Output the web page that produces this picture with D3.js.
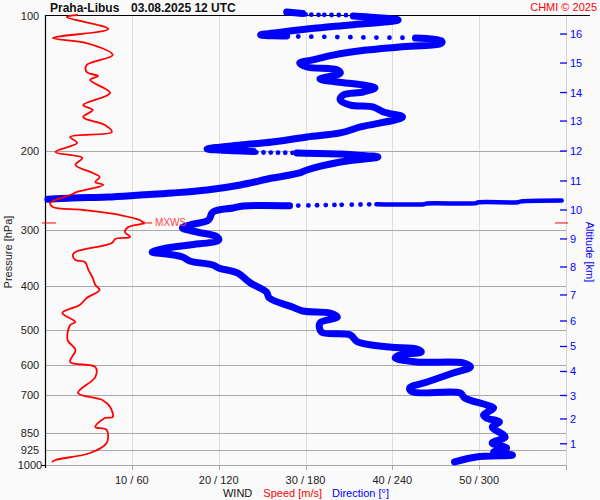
<!DOCTYPE html>
<html><head><meta charset="utf-8">
<script src="https://cdn.jsdelivr.net/npm/d3@7"></script>
<style>
body{margin:0;background:#fafafa}
svg text{font-family:"Liberation Sans",Arial,sans-serif}
</style>
</head><body>
<svg id="chart" width="600" height="500"></svg>
<script>
// ---------------- DATA ----------------
const stationTitle = "Praha-Libus";
const timeTitle = "03.08.2025 12 UTC";
const creditText = "CHMI © 2025";

const pressureTicks = [100, 200, 300, 400, 500, 600, 700, 850, 925, 1000];
const speedTicks = [10, 20, 30, 40, 50];
const dirTicks = [60, 120, 180, 240, 300];
const altitudeKm = [1, 2, 3, 4, 5, 6, 7, 8, 9, 10, 11, 12, 13, 14, 15, 16];
const altitudePres = [897, 789.8, 700.3, 619.2, 544.7, 478.0, 418.3, 362.4, 313.9, 270.6, 233.2, 200.0, 171.5, 148.2, 127.4, 109.8];

// wind speed profile [pressure hPa, speed m/s]
const speedProfile = [
  [99.6,3.8],[100.6,2.5],[107.0,7.3],[112.1,0.9],[115.0,4.8],[122.3,7.8],[128.7,4.8],[133.4,4.8],
  [136.2,6.1],[139.0,5.2],[148.5,7.5],[158.0,4.4],[162.1,5.5],[168.0,4.4],[175.0,6.9],[181.4,7.7],
  [186.1,2.9],[191.9,3.7],[201.0,1.2],[207.3,4.3],[214.8,3.5],[223.8,5.5],[228.5,6.3],[234.4,5.8],
  [238.0,6.7],[246.7,3.7],[250.6,2.9],[261.0,0.6],[266.4,0.9],[270.6,4.4],[277.6,8.6],[284.8,10.9],
  [289.2,11.3],[295.2,9.6],[302.9,9.2],[310.7,9.8],[313.9,8.1],[320.4,7.7],[335.6,3.5],[340.8,3.2],
  [349.6,3.5],[353.2,4.6],[368.0,5.0],[383.4,5.5],[397.4,5.8],[407.7,6.3],[424.8,4.8],[440.3,4.0],
  [458.7,2.0],[480.4,3.5],[487.8,2.9],[526.8,2.6],[554.5,3.5],[589.7,2.9],[605.0,5.8],[636.9,5.8],
  [691.4,3.8],[716.5,6.6],[742.7,7.5],[781.8,7.8],[785.8,6.9],[822.9,5.8],[835.7,7.1],[893.2,7.1],
  [940.2,5.2],[974.6,1.2],[984.6,0.8]
];
const maxWind = [289.2, 11.3]; // [pressure, speed]

// wind direction profile [pressure hPa, direction deg], continuous runs
const dirSegA = [
  [984.5,283],[959.7,298],[950.0,323],[935.5,310],[916.5,319],[893.3,309],[866.2,318],[823.0,309],
  [802.1,314],[785.8,305],[773.8,303],[746.5,310],[735.1,305],[709.2,290],[691.3,287],[687.7,254],
  [673.7,252],[653.4,264],[623.9,282],[605.0,294],[592.7,289],[589.7,257],[577.7,242],[568.9,245],
  [560.2,260],[551.7,257],[546.1,238],[532.3,216],[513.5,211],[505.7,191],[482.9,190],[468.3,202],
  [458.8,197],[454.1,178],[444.9,171],[424.8,155],[411.9,153],[393.4,142],[373.7,133],[364.2,120],
  [358.7,116],[351.4,100],[344.3,95],[339.0,84],[335.6,74],[328.8,84],[323.7,100],[315.6,120],
  [310.7,119],[302.9,105],[296.7,95],[292.2,100],[284.8,113],[273.4,116],[267.8,130],[265.1,137],
  [264.7,169]
];
const dirDots1 = [[264.5,175],[264.3,182],[264.1,188],[263.9,194],[263.7,200],[263.5,205],[263.3,212],[263.1,218],[262.9,224]];
const dirSegB = [[262.8,229],[262.6,262],[261.6,264],[261.3,298],[260.3,299],[260.0,327],[258.9,329],[257.7,357]];
const dirSegC = [
  [256.1,2],[254.4,19],[253.2,43],[250.6,66],[248.0,88],[244.2,112],[238.0,135],[229.7,157],
  [223.8,176],[220.4,181],[211.6,204],[206.2,230],[204.1,214],[203.1,204],[202.0,174]
];
const dirDots2 = [[201.9,171],[201.8,166],[201.7,161],[201.6,156],[201.5,151],[201.4,146]];
const dirSegD = [
  [200.5,144],[198.9,121],[197.9,112],[193.9,135],[191.0,157],[186.1,181],[182.3,204],[176.8,218],
  [168.0,247],[163.7,234],[159.6,227],[158.0,211],[154.0,204],[150.1,206],[147.8,220],[144.8,228],
  [142.6,220],[140.4,202],[138.3,190],[136.8,195],[134.1,204],[132.0,202],[130.0,181],[127.4,176],
  [125.4,185],[122.3,199],[119.2,222],[117.3,245],[115.0,274],[113.8,274],[112.1,256]
];
const dirDots3 = [[111.9,247],[111.85,238],[111.8,229],[111.7,220],[111.6,211],[111.5,202],[111.4,193],[111.3,184],[111.2,175]];
const dirSegE = [[110.9,167],[110.3,149],[108.7,164],[106.5,188],[104.8,211],[102.2,244],[100.9,228],[100.1,213]];
const dirDots4 = [[99.7,208],[99.6,203],[99.6,198],[99.5,193],[99.5,189],[99.4,184],[99.3,180]];
const dirSegF = [[98.8,178],[98.1,167]];

// ---------------- DRAW ----------------
const svg = d3.select("#chart");
const L = 45, R = 566, T = 15.8, B = 465;
const y = d3.scaleLog().domain([100, 1000]).range([T, B]);
const xs = d3.scaleLinear().domain([0, 60]).range([L, R]);
const xd = d3.scaleLinear().domain([0, 360]).range([L, R]);

svg.append("rect").attr("width", 600).attr("height", 500).attr("fill", "#fafafa");

// vertical grid
svg.selectAll(".vg").data(speedTicks).join("line")
  .attr("x1", d => Math.round(xs(d)) + 0.5).attr("x2", d => Math.round(xs(d)) + 0.5)
  .attr("y1", T).attr("y2", B).attr("stroke", "#dcdcdc");
// right axis line
svg.append("line").attr("x1", R + 0.5).attr("x2", R + 0.5).attr("y1", T).attr("y2", 470).attr("stroke", "#d4d4d4");

// horizontal grid
svg.selectAll(".hg").data(pressureTicks.filter(p => p > 100)).join("line")
  .attr("x1", L).attr("x2", R)
  .attr("y1", d => Math.round(y(d)) + 0.5).attr("y2", d => Math.round(y(d)) + 0.5)
  .attr("stroke", "#a8a8a8");
// bottom ticks
svg.selectAll(".bt").data(speedTicks.concat([60])).join("line")
  .attr("x1", d => Math.round(xs(d)) + 0.5).attr("x2", d => Math.round(xs(d)) + 0.5)
  .attr("y1", B).attr("y2", 470).attr("stroke", "#a8a8a8");

// frame
svg.append("line").attr("x1", L).attr("x2", 590).attr("y1", 15.5).attr("y2", 15.5).attr("stroke", "#000").attr("stroke-width", 1.2);
svg.append("line").attr("x1", L + 0.5).attr("x2", L + 0.5).attr("y1", 15).attr("y2", 468).attr("stroke", "#000").attr("stroke-width", 1.2);
svg.append("line").attr("x1", 41).attr("x2", L).attr("y1", B + 0.5).attr("y2", B + 0.5).attr("stroke", "#000");

// pressure labels
svg.selectAll(".pl").data(pressureTicks).join("text")
  .attr("x", 30).attr("y", d => y(d) + 4).attr("text-anchor", "middle")
  .attr("font-size", 11).attr("fill", "#222").text(d => d);
svg.append("text").attr("transform", "translate(12,252) rotate(-90)")
  .attr("text-anchor", "middle").attr("font-size", 11).attr("fill", "#222").text("Pressure [hPa]");

// x labels
svg.selectAll(".xl").data(speedTicks).join("text")
  .attr("x", d => xs(d)).attr("y", 484).attr("text-anchor", "middle")
  .attr("font-size", 11).attr("fill", "#222")
  .text((d, i) => d + " / " + dirTicks[i]);
const bottom = svg.append("text").attr("x", 306).attr("y", 497).attr("text-anchor", "middle").attr("font-size", 11);
bottom.append("tspan").attr("fill", "#111").text("WIND");
bottom.append("tspan").attr("fill", "#ff0000").attr("dx", 11).text("Speed [m/s]");
bottom.append("tspan").attr("fill", "#0000ff").attr("dx", 10).text("Direction [°]");

// altitude axis
svg.selectAll(".at").data(altitudeKm).join("line")
  .attr("x1", 560).attr("x2", 567)
  .attr("y1", (d, i) => y(altitudePres[i])).attr("y2", (d, i) => y(altitudePres[i]))
  .attr("stroke", "#0000ff").attr("stroke-width", 1.3);
svg.selectAll(".al").data(altitudeKm).join("text")
  .attr("x", 570).attr("y", (d, i) => y(altitudePres[i]) + 4)
  .attr("font-size", 11).attr("fill", "#0000ff").text(d => d);
svg.append("text").attr("transform", "translate(586,252) rotate(90)")
  .attr("text-anchor", "middle").attr("font-size", 11).attr("fill", "#0000ff").text("Altitude [km]");

// titles
const tt = svg.append("text").attr("x", 50).attr("y", 12).attr("font-size", 12).attr("font-weight", "bold").attr("fill", "#111");
tt.append("tspan").text(stationTitle);
tt.append("tspan").attr("x", 131).text(timeTitle);
svg.append("text").attr("x", 597).attr("y", 11).attr("text-anchor", "end").attr("font-size", 11).attr("fill", "#ff0000").text(creditText);

// direction profile
const dirLine = d3.line().x(d => xd(d[1])).y(d => y(d[0])).curve(d3.curveCatmullRom.alpha(0.5));
[dirSegA, dirSegB, dirSegC, dirSegD, dirSegE, dirSegF].forEach((seg, i) => {
  svg.append("path").datum(seg).attr("d", dirLine)
    .attr("fill", "none").attr("stroke", "#0000ff")
    .attr("stroke-width", i === 1 ? 4.5 : 7)
    .attr("stroke-linecap", "round").attr("stroke-linejoin", "round");
});
[dirDots1, dirDots2, dirDots3, dirDots4].forEach(dots => {
  svg.append("g").selectAll("circle").data(dots).join("circle")
    .attr("cx", d => xd(d[1])).attr("cy", d => y(d[0])).attr("r", 2.4).attr("fill", "#0000ff");
});

// speed profile
const spLine = d3.line().x(d => xs(d[1])).y(d => y(d[0])).curve(d3.curveCatmullRom.alpha(0.5));
svg.append("path").datum(speedProfile).attr("d", spLine)
  .attr("fill", "none").attr("stroke", "#ff0000").attr("stroke-width", 1.8).attr("stroke-linejoin", "round");

// max wind marker
const my = y(maxWind[0]), mx = xs(maxWind[1]);
svg.append("line").attr("x1", 42).attr("x2", 56).attr("y1", my).attr("y2", my).attr("stroke", "#ff0000");
svg.append("line").attr("x1", 555).attr("x2", 568).attr("y1", my).attr("y2", my).attr("stroke", "#ff0000");
svg.append("rect").attr("x", mx - 1.5).attr("y", my - 1.5).attr("width", 3).attr("height", 3).attr("fill", "#ff0000");
svg.append("line").attr("x1", mx).attr("x2", mx + 9).attr("y1", my).attr("y2", my).attr("stroke", "#ff0000");
svg.append("text").attr("x", mx + 12).attr("y", my + 3.5).attr("font-size", 10).attr("fill", "#ff4444").text("MXWS");
</script>
</body></html>
